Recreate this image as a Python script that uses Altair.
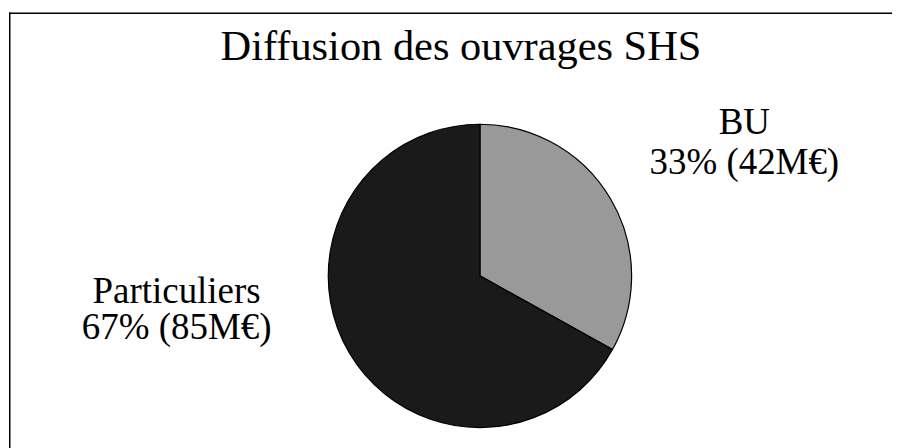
import altair as alt
import pandas as pd

categories = ["BU", "Particuliers"]
values = [42, 85]
percents = ["33%", "67%"]
amounts = ["(42M€)", "(85M€)"]
colors = ["#999999", "#1a1a1a"]
title_text = "Diffusion des ouvrages SHS"

df = pd.DataFrame({
    "cat": categories,
    "val": values,
    "ord": list(range(len(categories))),
    "line2": [f"{p} {a}" for p, a in zip(percents, amounts)],
})

FONT = "Liberation Serif"
W, H = 885, 437
cx, cy, r = 472, 264, 152

pie = alt.Chart(df).mark_arc(
    stroke="black", strokeWidth=1.2, radius=r
).encode(
    theta=alt.Theta("val:Q", stack=True),
    order=alt.Order("ord:Q"),
    color=alt.Color("cat:N", scale=alt.Scale(domain=categories, range=colors), legend=None),
    x=alt.value(cx),
    y=alt.value(cy),
)

title = alt.Chart(pd.DataFrame({"t": [title_text]})).mark_text(
    font=FONT, fontSize=42.5, align="center", baseline="alphabetic", color="black"
).encode(text="t:N", x=alt.value(453), y=alt.value(48))

bu = df[df["cat"] == "BU"]
pa = df[df["cat"] == "Particuliers"]

def lbl(d, field, x, y):
    return alt.Chart(d).mark_text(
        font=FONT, fontSize=37, align="center", baseline="alphabetic", color="black"
    ).encode(text=f"{field}:N", x=alt.value(x), y=alt.value(y))

frame_df = pd.DataFrame({"k": [0]})
left_rule = alt.Chart(frame_df).mark_rule(color="black", strokeWidth=1.5).encode(
    x=alt.value(0.75), y=alt.value(0), y2=alt.value(H)
)
top_rule = alt.Chart(frame_df).mark_rule(color="black", strokeWidth=1.5).encode(
    x=alt.value(0), x2=alt.value(W), y=alt.value(0.75)
)

layers = [
    left_rule, top_rule, pie, title,
    lbl(bu, "cat", 737, 122), lbl(bu, "line2", 737, 162),
    lbl(pa, "cat", 168, 291), lbl(pa, "line2", 168, 327),
]

chart = alt.layer(*layers).properties(
    width=W, height=H,
    padding={"left": 0, "top": 3, "right": 0, "bottom": 0},
    background="white",
).configure_view(strokeWidth=0)

chart.save("out.html", embed_options={"renderer": "svg", "actions": False})
